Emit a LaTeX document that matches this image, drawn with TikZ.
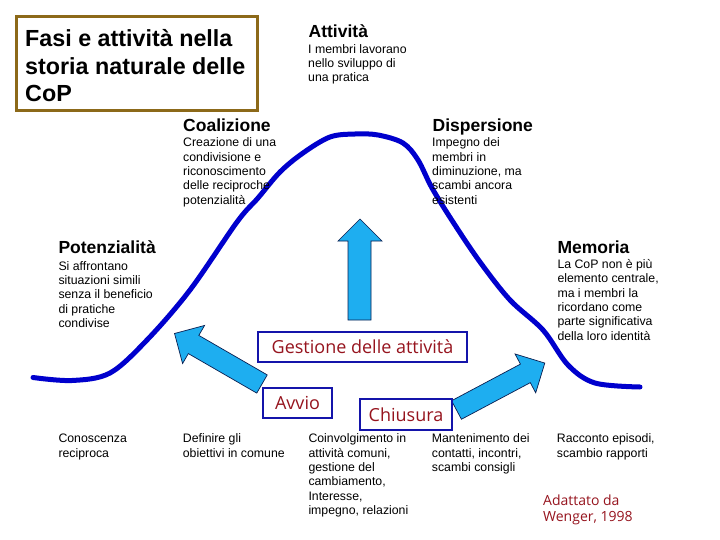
\documentclass[tikz,border=0pt]{standalone}
\usepackage{fontspec}
\setmainfont{Liberation Sans}
\newfontfamily\handf{Open Sans}
\definecolor{curveblue}{RGB}{0,0,205}
\definecolor{boxblue}{RGB}{20,20,170}
\definecolor{arrowblue}{RGB}{30,174,240}
\definecolor{arrowline}{RGB}{10,30,80}
\definecolor{handred}{RGB}{150,20,30}
\definecolor{titlebrown}{RGB}{140,105,25}
\newcommand\firstln{\rule{0pt}{10pt}}
\begin{document}
\begin{tikzpicture}[x=1pt,y=-1pt,
  head/.style={anchor=base west, inner sep=0, font=\fontsize{17.5}{20}\selectfont\bfseries},
  body/.style={anchor=north west, inner sep=0, align=left, font=\fontsize{12.3}{14.3}\selectfont},
  gbox/.style={draw=boxblue, line width=2.2pt, inner sep=0, text=handred, font=\handf\fontsize{18}{20}\selectfont},
  fatarrow/.style={fill=arrowblue, draw=arrowline, line width=0.7pt, line join=miter},
  curve/.style={draw=curveblue, line width=5pt, line cap=round, line join=round}
]
\useasboundingbox (0,0) rectangle (720,540);
\fill[white] (0,0) rectangle (720,540);

% bell curve
\draw[curve] plot[smooth, tension=0.55] coordinates {(33,377.5) (72,380.5) (110,373) (147,340) (190,290) (237,222) (258,198) (280,172) (303,153) (330,137) (355,134) (378,135) (403,143) (418,160) (432,188) (453,222) (480,262) (510,300) (543,330) (568,365) (595,383) (640,387)};

% title
\draw[titlebrown, line width=3pt] (16.5,16.5) rectangle (257.5,110.5);
\node[anchor=north west, inner sep=0, align=left, font=\fontsize{23.3}{27.5}\selectfont\bfseries] (title) at (25,28.2) {\rule{0pt}{18.5pt}Fasi e attività nella\\storia naturale delle\\CoP};

% headings
\node[head] (hatt) at (308.5,37.3) {Attività};
\node[head] (hcoal) at (183,131.7) {Coalizione};
\node[head] (hdisp) at (432.5,131.7) {Dispersione};
\node[head] (hpot) at (58.3,253.5) {Potenzialità};
\node[head] (hmem) at (557.3,254) {Memoria};

% bodies
\node[body, font=\fontsize{12.3}{13.8}\selectfont] (batt) at (308,43.3) {\firstln I membri lavorano\\nello sviluppo di\\una pratica};
\node[body] (bcoal) at (183,136.7) {\firstln Creazione di una\\condivisione e\\riconoscimento\\delle reciproche\\potenzialità};
\node[body] (bdisp) at (432,136.7) {\firstln Impegno dei\\membri in\\diminuzione, ma\\scambi ancora\\esistenti};
\node[body] (bpot) at (58.3,260) {\firstln Si affrontano\\situazioni simili\\senza il beneficio\\di pratiche\\condivise};
\node[body] (bmem) at (557.3,258.3) {\firstln La CoP non è più\\elemento centrale,\\ma i membri la\\ricordano come\\parte significativa\\della loro identità};

% bottom row
\node[body] (b1) at (58.3,432.7) {\firstln Conoscenza\\reciproca};
\node[body] (b2) at (182.7,432.7) {\firstln Definire gli\\obiettivi in comune};
\node[body] (b3) at (308.3,432.7) {\firstln Coinvolgimento in\\attività comuni,\\gestione del\\cambiamento,\\Interesse,\\impegno, relazioni};
\node[body] (b4) at (431.7,432.7) {\firstln Mantenimento dei\\contatti, incontri,\\scambi consigli};
\node[body] (b5) at (556.7,432.7) {\firstln Racconto episodi,\\scambio rapporti};

% arrows
\draw[fatarrow] (360,219) -- (382,241) -- (371,241) -- (371,320) -- (348,320) -- (348,241) -- (338,241) -- cycle;
\draw[fatarrow, shift={(262,384)}, rotate=150] (0,-10.5) -- (79,-10.5) -- (79,-22) -- (101,0) -- (79,22) -- (79,10.5) -- (0,10.5) -- cycle;
\draw[fatarrow, shift={(456.5,410)}, rotate=28] (0,-10.5) -- (78,-10.5) -- (78,-22) -- (100,0) -- (78,22) -- (78,10.5) -- (0,10.5) -- cycle;

% boxes
\node[gbox, minimum width=209pt, minimum height=30pt] (gest) at (362.5,347) {Gestione delle attività};
\node[gbox, minimum width=69pt, minimum height=30pt] (avvio) at (297.5,403) {Avvio};
\node[gbox, minimum width=92pt, minimum height=31pt] (chius) at (406,414.5) {Chiusura};

% credit
\node[anchor=north west, inner sep=0, align=left, text=handred, font=\handf\fontsize{14}{16.7}\selectfont] (credit) at (543,494) {\rule{0pt}{11pt}Adattato da\\Wenger, 1998};
\end{tikzpicture}
\end{document}
